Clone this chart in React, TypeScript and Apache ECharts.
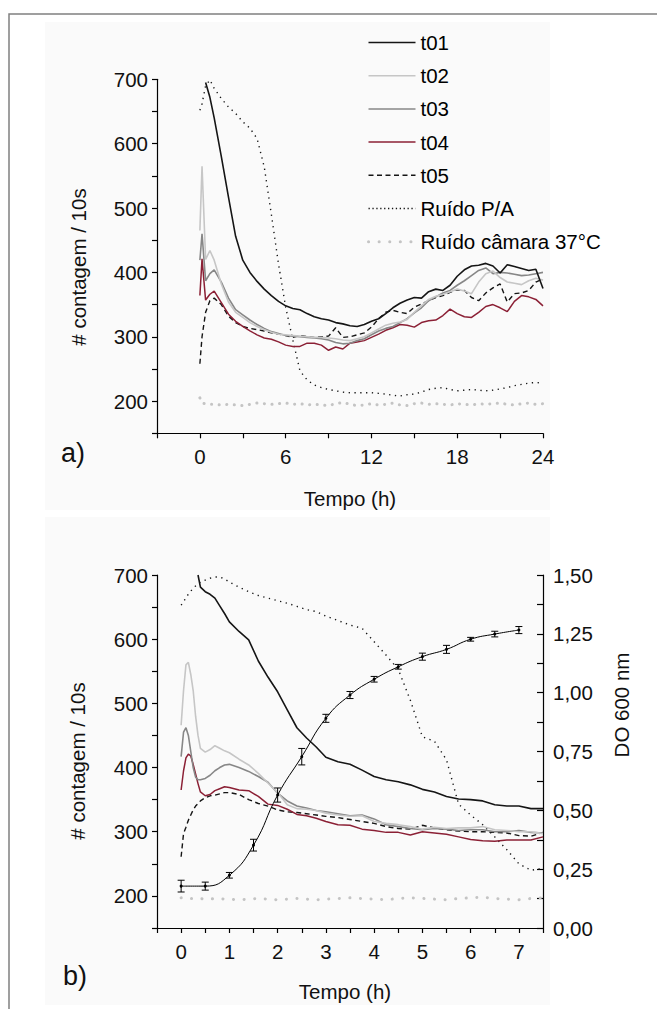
import React, { useEffect, useRef } from 'react';
import * as echarts from 'echarts';

// ---------- DATA: panel a (0–24 h) ----------
const T_A = [0, 0.15, 0.4, 0.7, 1, 1.5, 2, 2.5, 3, 3.5, 4, 4.5, 5, 5.5, 6, 6.5, 7, 7.5, 8, 8.5, 9, 9.5, 10, 10.5, 11, 11.5, 12, 12.5, 13, 13.5, 14, 14.5, 15, 15.5, 16, 16.5, 17, 17.5, 18, 18.5, 19, 19.5, 20, 20.5, 21, 21.5, 22, 22.5, 23, 23.5, 24];
const A_T01 = [null, null, 695, 672, 640, 580, 517, 456, 419, 400, 386, 374, 364, 355, 348, 344, 342, 336, 331, 328, 326, 322, 320, 317, 316, 319, 324, 328, 336, 345, 352, 357, 361, 360, 370, 374, 372, 380, 394, 404, 410, 411, 414, 410, 399, 412, 409, 406, 403, 405, 375];
const A_T02 = [465, 565, 420, 434, 419, 382, 354, 338, 330, 322, 316, 311, 307, 304, 303, 302, 301, 300, 299, 299, 298, 297, 295, 294, 297, 300, 306, 312, 318, 321, 323, 327, 338, 348, 358, 363, 366, 370, 374, 371, 367, 385, 398, 402, 392, 385, 383, 381, 387, 391, 388];
const A_T03 = [419, 460, 387, 398, 404, 385, 360, 342, 334, 326, 319, 313, 308, 305, 302, 301, 300, 299, 298, 297, 295, 291, 289, 290, 294, 297, 303, 309, 313, 316, 322, 328, 337, 345, 356, 362, 368, 372, 380, 387, 395, 403, 407, 398, 400, 399, 397, 395, 396, 398, 400];
const A_T04 = [364, 421, 357, 366, 371, 353, 335, 324, 316, 309, 303, 298, 296, 292, 287, 285, 285, 290, 290, 287, 279, 284, 281, 290, 292, 294, 299, 304, 310, 314, 319, 318, 315, 322, 325, 326, 333, 343, 336, 331, 330, 338, 347, 350, 345, 339, 355, 364, 362, 358, 348];
const A_T05 = [258, 300, 338, 356, 360, 350, 332, 322, 316, 313, 311, 309, 306, 304, 302, 299, 302, 300, 299, 300, 301, 314, 299, 300, 303, 306, 315, 328, 338, 341, 338, 336, 346, 351, 356, 361, 364, 369, 373, 372, 361, 356, 368, 376, 382, 354, 367, 368, 372, 385, 390];
const A_PA = [652, 662, 690, 699, 686, 670, 657, 647, 634, 624, 608, 564, 490, 413, 346, 295, 247, 233, 225, 221, 218, 216, 214, 213, 213, 213, 213, 212, 211, 209, 208, 210, 211, 214, 218, 220, 221, 218, 216, 217, 218, 217, 216, 217, 219, 221, 224, 226, 228, 229, 228];
const A_CAM = [205, 197, 196, 195, 195, 194, 195, 194, 193, 195, 197, 196, 195, 196, 197, 195, 196, 194, 195, 194, 193, 196, 198, 195, 193, 194, 196, 194, 195, 197, 194, 193, 196, 197, 195, 196, 195, 194, 196, 195, 194, 196, 195, 196, 197, 195, 194, 196, 197, 195, 196];

// ---------- DATA: panel b (0–7.5 h) ----------
const T_B = [0, 0.05, 0.1, 0.15, 0.2, 0.25, 0.3, 0.35, 0.4, 0.5, 0.6, 0.7, 0.8, 0.9, 1.0, 1.2, 1.4, 1.6, 1.8, 2.0, 2.2, 2.4, 2.6, 2.8, 3.0, 3.25, 3.5, 3.75, 4.0, 4.25, 4.5, 4.75, 5.0, 5.25, 5.5, 5.75, 6.0, 6.25, 6.5, 6.75, 7.0, 7.25, 7.5];
const B_T01 = [null, null, null, null, null, null, null, 700, 681, 674, 670, 664, 652, 640, 627, 612, 599, 566, 541, 518, 490, 462, 446, 432, 416, 409, 405, 396, 386, 381, 378, 373, 366, 362, 355, 351, 350, 348, 342, 340, 340, 336, 336];
const B_T02 = [466, 520, 560, 564, 545, 520, 480, 450, 430, 424, 428, 434, 430, 426, 423, 413, 404, 391, 376, 361, 342, 336, 335, 333, 329, 326, 324, 325, 316, 313, 311, 308, 304, 307, 305, 306, 306, 308, 303, 302, 300, 300, 297];
const B_T03 = [417, 455, 462, 450, 425, 400, 385, 381, 381, 383, 388, 395, 400, 404, 405, 400, 394, 386, 377, 360, 348, 340, 337, 333, 331, 328, 325, 326, 320, 311, 308, 305, 303, 305, 304, 302, 303, 303, 300, 300, 302, 299, 298];
const B_T04 = [365, 395, 415, 421, 418, 405, 390, 375, 362, 356, 358, 364, 367, 370, 369, 365, 364, 355, 343, 341, 335, 327, 325, 321, 316, 311, 310, 304, 302, 299, 299, 295, 300, 298, 296, 292, 288, 286, 285, 287, 287, 287, 292];
const B_T05 = [261, 297, 307, 318, 326, 334, 340, 344, 348, 353, 356, 357, 359, 361, 361, 358, 350, 344, 340, 334, 331, 330, 328, 326, 324, 322, 319, 316, 313, 308, 305, 304, 310, 306, 303, 301, 300, 300, 299, 298, 294, 293, 299];
const B_PA = [653, 658, 665, 670, 675, 679, 683, 686, 689, 692, 695, 697, 697, 694, 689, 681, 674, 668, 664, 660, 656, 651, 646, 643, 636, 629, 622, 617, 596, 575, 553, 505, 448, 441, 412, 343, 326, 311, 292, 272, 250, 240, 243];
const B_CAM = [197, 198, 197, 197, 196, 196, 197, 196, 196, 195, 196, 195, 196, 195, 195, 194, 195, 196, 195, 194, 195, 196, 195, 194, 195, 196, 197, 196, 195, 194, 196, 197, 196, 195, 194, 196, 197, 198, 196, 195, 194, 196, 197];

// Optical density (right axis), mean and error
const T_OD = [0, 0.5, 1, 1.5, 2, 2.5, 3, 3.5, 4, 4.5, 5, 5.5, 6, 6.5, 7];
const OD = [0.178, 0.178, 0.224, 0.352, 0.565, 0.728, 0.891, 0.99, 1.057, 1.11, 1.153, 1.184, 1.227, 1.249, 1.266];
const OD_ERR = [0.025, 0.017, 0.012, 0.025, 0.03, 0.035, 0.017, 0.015, 0.012, 0.01, 0.015, 0.017, 0.008, 0.012, 0.015];

const NAMES = ['t01', 't02', 't03', 't04', 't05', 'Ruído P/A', 'Ruído câmara 37°C'];
const A_SERIES = [A_T01, A_T02, A_T03, A_T04, A_T05, A_PA, A_CAM];
const B_SERIES = [B_T01, B_T02, B_T03, B_T04, B_T05, B_PA, B_CAM];

// ---------- STYLES ----------
const FONT = '"Liberation Sans", Arial, Helvetica, sans-serif';
const FS = 20.5;
const STYLE_A: any[] = [
  { color: '#151515', width: 1.6, type: 'solid' },
  { color: '#c6c6c6', width: 1.6, type: 'solid' },
  { color: '#878787', width: 1.6, type: 'solid' },
  { color: '#8b2035', width: 1.5, type: 'solid' },
  { color: '#151515', width: 1.4, type: [5, 3.5] },
  { color: '#151515', width: 1.4, type: [1.3, 4.5] },
  { color: '#c4c4c4', width: 3, type: [0.1, 7.5], cap: 'round' },
];
const STYLE_B: any[] = STYLE_A.map((s, i) => (i === 6 ? { ...s, type: [0.1, 10.5] } : s));

const pairs = (xs: number[], ys: (number | null)[]) => xs.map((x, i) => [x, ys[i]]);

const yLeftLabel = (v: number) => (Math.round(v) % 100 === 0 ? String(Math.round(v)) : '');

function buildOption() {
  const axisLine = { show: true, lineStyle: { color: '#000', width: 1.2 } };
  const axisTick = { show: true, length: 5, lineStyle: { color: '#000', width: 1.2 } };
  const labelStyle = { color: '#111', fontSize: FS, fontFamily: FONT };

  const series: any[] = [];
  A_SERIES.forEach((ys, i) => {
    series.push({
      name: NAMES[i],
      type: 'line',
      xAxisIndex: 0,
      yAxisIndex: 0,
      symbol: 'none',
      data: pairs(T_A, ys),
      lineStyle: STYLE_A[i],
      itemStyle: { color: STYLE_A[i].color },
      z: 10 - i,
    });
  });
  B_SERIES.forEach((ys, i) => {
    series.push({
      name: NAMES[i],
      type: 'line',
      xAxisIndex: 1,
      yAxisIndex: 1,
      symbol: 'none',
      data: pairs(T_B, ys),
      lineStyle: STYLE_B[i],
      itemStyle: { color: STYLE_B[i].color },
      z: 10 - i,
    });
  });
  series.push({
    name: 'DO 600 nm',
    type: 'line',
    xAxisIndex: 1,
    yAxisIndex: 2,
    smooth: 0.5,
    symbol: 'circle',
    symbolSize: 3,
    data: pairs(T_OD, OD),
    lineStyle: { color: '#000', width: 1 },
    itemStyle: { color: '#000' },
    z: 12,
  });
  series.push({
    name: 'DO err',
    type: 'custom',
    xAxisIndex: 1,
    yAxisIndex: 2,
    data: T_OD.map((t, i) => [t, OD[i], OD_ERR[i]]),
    encode: { x: 0, y: 1 },
    z: 12,
    renderItem: (params: any, api: any) => {
      const t = api.value(0);
      const v = api.value(1);
      const e = api.value(2);
      const top = api.coord([t, v + e]);
      const bot = api.coord([t, v - e]);
      const hw = 3.5;
      const st = { stroke: '#000', lineWidth: 1 };
      return {
        type: 'group',
        children: [
          { type: 'line', shape: { x1: top[0], y1: top[1], x2: bot[0], y2: bot[1] }, style: st },
          { type: 'line', shape: { x1: top[0] - hw, y1: top[1], x2: top[0] + hw, y2: top[1] }, style: st },
          { type: 'line', shape: { x1: bot[0] - hw, y1: bot[1], x2: bot[0] + hw, y2: bot[1] }, style: st },
        ],
      };
    },
  });

  const txt = (text: string, x: number, y: number, size: number, rot = 0) => ({
    type: 'text',
    x,
    y,
    rotation: rot,
    z: 100,
    style: {
      text,
      fill: '#111',
      fontSize: size,
      fontFamily: FONT,
      align: 'center',
      verticalAlign: 'middle',
      textAlign: 'center',
      textVerticalAlign: 'middle',
    },
  });

  return {
    animation: false,
    backgroundColor: '#ffffff',
    textStyle: { fontFamily: FONT },
    grid: [
      { left: 157, top: 79.3, width: 386, height: 354 },
      { left: 157, top: 575, width: 386, height: 353 },
    ],
    legend: {
      orient: 'vertical',
      left: 367,
      top: 32,
      padding: 0,
      itemWidth: 47,
      itemHeight: 14,
      itemGap: 12.2,
      selectedMode: false,
      textStyle: { color: '#000', fontSize: FS, fontFamily: FONT, lineHeight: 21 },
      data: NAMES.map((n, i) => ({
        name: n,
        itemStyle: { opacity: 0 },
        lineStyle: {
          color: STYLE_A[i].color,
          width: i === 6 ? 3 : 1.5,
          type: i === 6 ? [0.1, 10.5] : i === 5 ? [1.3, 2.6] : STYLE_A[i].type,
          cap: i === 6 ? 'round' : 'butt',
        },
      })),
    },
    xAxis: [
      {
        type: 'value',
        gridIndex: 0,
        min: -3,
        max: 24,
        interval: 3,
        axisLine: { ...axisLine, onZero: false },
        axisTick,
        splitLine: { show: false },
        axisLabel: {
          ...labelStyle,
          margin: 13,
          formatter: (v: number) => (v >= 0 && Math.round(v) % 6 === 0 ? String(Math.round(v)) : ''),
        },
      },
      {
        type: 'value',
        gridIndex: 1,
        min: -0.5,
        max: 7.5,
        interval: 0.5,
        axisLine: { ...axisLine, onZero: false },
        axisTick,
        splitLine: { show: false },
        axisLabel: {
          ...labelStyle,
          margin: 13,
          formatter: (v: number) => (v >= 0 && Math.abs(v - Math.round(v)) < 1e-6 ? String(Math.round(v)) : ''),
        },
      },
    ],
    yAxis: [
      {
        type: 'value',
        gridIndex: 0,
        min: 150,
        max: 700,
        interval: 50,
        axisLine: { ...axisLine, onZero: false },
        axisTick,
        splitLine: { show: false },
        axisLabel: { ...labelStyle, margin: 9, formatter: yLeftLabel },
      },
      {
        type: 'value',
        gridIndex: 1,
        min: 150,
        max: 700,
        interval: 50,
        axisLine: { ...axisLine, onZero: false },
        axisTick,
        splitLine: { show: false },
        axisLabel: { ...labelStyle, margin: 9, formatter: yLeftLabel },
      },
      {
        type: 'value',
        gridIndex: 1,
        position: 'right',
        min: 0,
        max: 1.5,
        interval: 0.125,
        axisLine: { ...axisLine, onZero: false },
        axisTick: { ...axisTick, inside: true, length: 6 },
        splitLine: { show: false },
        axisLabel: {
          ...labelStyle,
          margin: 10,
          formatter: (v: number) =>
            Math.abs(v * 4 - Math.round(v * 4)) < 1e-6 ? v.toFixed(2).replace('.', ',') : '',
        },
      },
    ],
    graphic: [
      { type: 'rect', z: -10, shape: { x: 45, y: 22, width: 505, height: 488 }, style: { fill: '#fafafa' } },
      { type: 'rect', z: -10, shape: { x: 45, y: 517, width: 505, height: 488 }, style: { fill: '#fafafa' } },
      { type: 'rect', z: 50, shape: { x: 9, y: 14, width: 700, height: 1100 }, style: { fill: 'none', stroke: '#808080', lineWidth: 1.5 } },
      txt('# contagem / 10s', 78, 267, FS, Math.PI / 2),
      txt('# contagem / 10s', 77, 761, FS, Math.PI / 2),
      txt('DO 600 nm', 621, 705, FS, Math.PI / 2),
      txt('Tempo (h)', 350, 498, FS),
      txt('Tempo (h)', 345, 991, FS),
      txt('a)', 73, 453, 27),
      txt('b)', 75, 976, 27),
    ],
    series,
  };
}

export default function App() {
  const ref = useRef<HTMLDivElement>(null);
  useEffect(() => {
    document.body.style.margin = '0';
    const chart = echarts.init(ref.current as HTMLDivElement, null, { renderer: 'svg' });
    chart.setOption(buildOption() as any);
    return () => chart.dispose();
  }, []);
  return <div ref={ref} style={{ width: 657, height: 1009 }} />;
}
